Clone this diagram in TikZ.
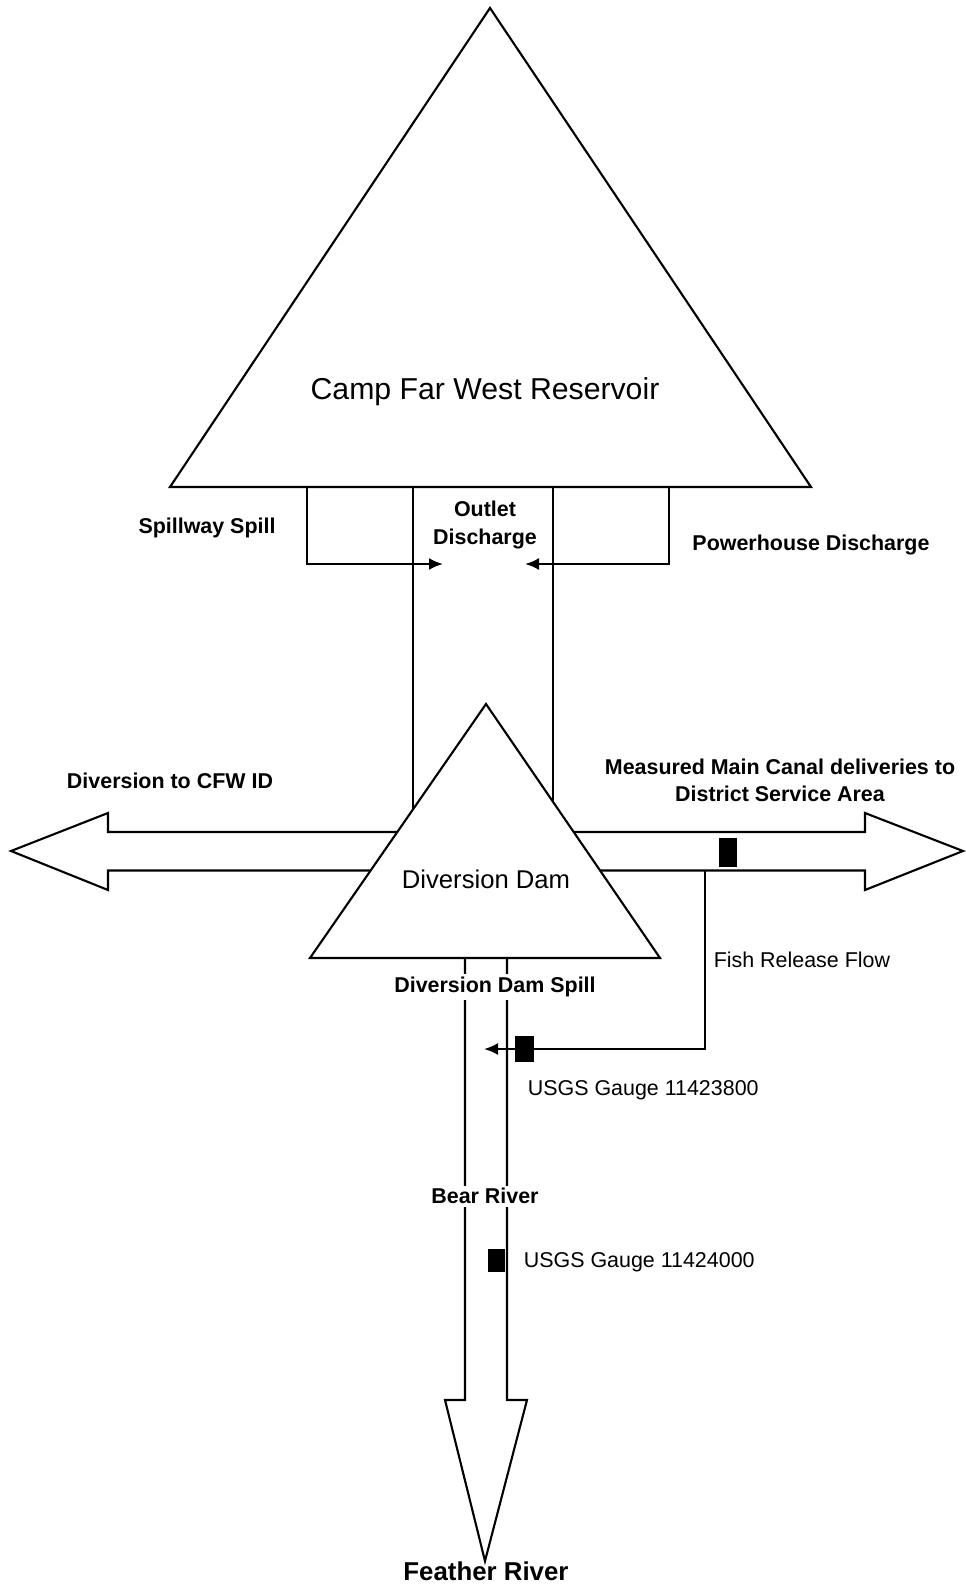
\documentclass[tikz,border=0pt]{standalone}
\usepackage{fontspec}
\setmainfont{Liberation Sans}
\usetikzlibrary{arrows.meta}

\begin{document}
\begin{tikzpicture}[x=0.02cm, y=-0.02cm, line width=1.2pt,
	lbl/.style={font=\fontsize{12.2}{15.5}\selectfont\bfseries, inner sep=1pt, align=center},
	txt/.style={font=\fontsize{12.2}{15.5}\selectfont, inner sep=1pt},
	gauge/.style={fill=black, inner sep=0pt},
	flow/.style={-{Latex[length=0.28cm, width=0.24cm]}}]
	\useasboundingbox (0,0) rectangle (965,1585);

	% coordinates
	\coordinate (CW) at (11, 851);
	\coordinate (CE) at (963, 851);
	\coordinate (FR) at (485, 1561);
	\coordinate (SpT) at (307, 487);
	\coordinate (PhT) at (669, 487);
	\coordinate (SpB) at (307, 564);
	\coordinate (PhB) at (669, 564);
	\coordinate (SpE) at (443, 564);
	\coordinate (PhE) at (525, 564);
	\coordinate (OlL) at (413, 487);
	\coordinate (OlR) at (553, 487);
	\coordinate (FsT) at (705, 871);
	\coordinate (FsB) at (705, 1049);
	\coordinate (FsE) at (484, 1049);

	% canal (double arrow)
	\draw (CW) -- (108, 813) -- (108, 832) -- (865, 832) -- (865, 813) -- (CE)
		-- (865, 890) -- (865, 870.5) -- (108, 870.5) -- (108, 890) -- cycle;

	% outlet channel
	\draw (OlL) -- (413, 830);
	\draw (OlR) -- (553, 830);

	% Bear River
	\draw (465, 958) -- (465, 1400) -- (445, 1400) -- (FR) -- (527, 1400) -- (507, 1400) -- (507, 958);

	% triangles
	\draw[fill=white] (486, 704) -- (660, 958) -- (310, 958) -- cycle;
	\draw[fill=white] (490, 8) -- (811, 487) -- (170, 487) -- cycle;

	% spill and powerhouse
	\draw[flow] (SpT) -- (SpB) -- (SpE);
	\draw[flow] (PhT) -- (PhB) -- (PhE);

	% fish release
	\draw[flow] (FsT) -- (FsB) -- (FsE);

	% gauges
	\node[gauge, minimum width=0.36cm, minimum height=0.58cm] (G1) at (728, 852.5) {};
	\node[gauge, minimum width=0.38cm, minimum height=0.52cm] (G2) at (524.5, 1049) {};
	\node[gauge, minimum width=0.34cm, minimum height=0.46cm] (G3) at (496.5, 1260.5) {};

	% labels
	\node[font=\fontsize{17.2}{20}\selectfont] (res) at (485, 392) {Camp Far West Reservoir};
	\node[font=\fontsize{14.6}{17}\selectfont] (dam) at (486, 879) {Diversion Dam};
	\node[lbl] (spill) at (207, 528) {Spillway Spill};
	\node[lbl] (outlet) at (485, 525) {Outlet\\Discharge};
	\node[lbl] (power) at (811, 545) {Powerhouse Discharge};
	\node[lbl] (cfw) at (170, 781) {Diversion to CFW ID};
	\node[lbl] (canal) at (780, 780) {Measured Main Canal deliveries to\\District Service Area};
	\node[txt, anchor=west] (fish) at (711, 960) {Fish Release Flow};
	\node[lbl, fill=white, inner sep=1.5pt] (dspill) at (495, 987) {Diversion Dam Spill};
	\node[txt, anchor=west] (g1lbl) at (525, 1090) {USGS Gauge 11423800};
	\node[lbl, fill=white, inner sep=1.5pt] (bear) at (485, 1196) {Bear River};
	\node[txt, anchor=west] (g2lbl) at (521, 1262) {USGS Gauge 11424000};
	\node[font=\fontsize{14.7}{17}\selectfont\bfseries, inner sep=1pt] (feather) at (486, 1571) {Feather River};
\end{tikzpicture}
\end{document}
